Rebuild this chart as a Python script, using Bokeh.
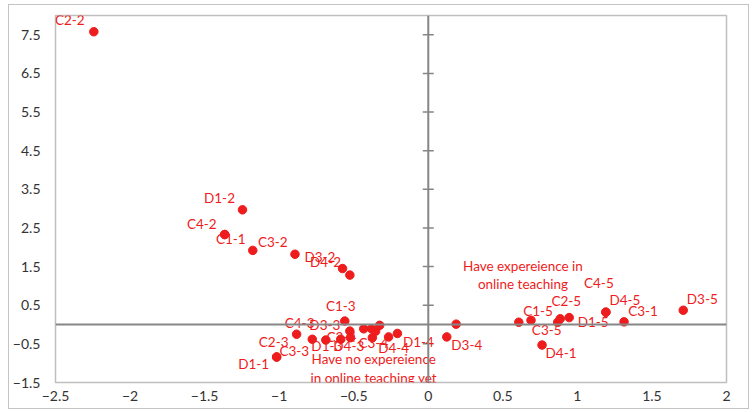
from bokeh.plotting import figure
from bokeh.models import Range1d, FixedTicker, Span, ColumnDataSource
from bokeh.core.properties import value
from bokeh.embed import file_html
from bokeh.resources import INLINE

# ---- data ----
names = ["C2-2", "D1-2", "C4-2", "C1-1", "C3-2", "D3-2", "D4-2", "",
         "C1-3", "C4-3", "D1-1", "C2-3", "C3-3", "D1-3", "D4-3", "D3-3",
         "C2-4", "", "", "", "", "C3-4", "D4-4", "D1-4",
         "D3-4", "", "", "C1-5", "C3-5", "C2-5", "D1-5", "D4-1",
         "D4-5", "C4-5", "C3-1", "D3-5"]
xs = [-2.243, -1.246, -1.365, -1.365, -1.177, -0.894, -0.575, -0.526,
      -0.560, -0.883, -1.017, -1.017, -0.778, -0.687, -0.587, -0.526,
      -0.522, -0.433, -0.381, -0.353, -0.326, -0.375, -0.266, -0.207,
      0.124, 0.187, 0.607, 0.689, 0.868, 0.885, 0.945, 0.763,
      1.191, 1.191, 1.313, 1.710]
ys = [7.58, 2.97, 2.33, 2.33, 1.92, 1.82, 1.45, 1.28,
      0.09, -0.25, -0.84, -0.84, -0.38, -0.40, -0.38, -0.17,
      -0.34, -0.11, -0.11, -0.17, -0.02, -0.34, -0.32, -0.23,
      -0.32, 0.01, 0.06, 0.11, 0.06, 0.15, 0.18, -0.53,
      0.32, 0.32, 0.07, 0.37]
x_ticks = [-2.5, -2, -1.5, -1, -0.5, 0, 0.5, 1, 1.5, 2]
y_ticks = [-1.5, -0.5, 0.5, 1.5, 2.5, 3.5, 4.5, 5.5, 6.5, 7.5]
note_pos = ["Have expereience in", "online teaching"]
note_neg = ["Have no expereience", "in online teaching yet"]

# ---- label placement (screen pixel offsets, style only) ----
lab_dx = [-24, -23, -23, 6, 20, 25, -17, 0,
          -4, 3, -23, -3, -18, 1, 8, -25,
          -9, 0, 0, 0, 0, 1, 5, 21,
          20, 0, 0, 7, -11, 6, 24, 19,
          19, -7, 19, 19]
lab_dy = [-12, -12, -11, 4, -8, 3, -7, 0,
          -15, -11, 7, -15, 12, 6, 7, -6,
          -1, 0, 0, 0, 0, 5, 11, 9,
          8, 0, 0, -9, 8, -18, 4, 8,
          -12, -29, -11, -11]

RED = "#EE1C1C"
GRAY = "#868686"
FONT = "Lato"

p = figure(width=741, height=405, output_backend="svg", toolbar_location=None,
           x_range=Range1d(-2.5, 2), y_range=Range1d(-1.5, 8),
           min_border_left=44, min_border_right=24, min_border_top=10,
           min_border_bottom=28)
p.styles = {"margin-left": "8px", "margin-top": "4px", "border": "1px solid #C4C4C4"}
p.grid.visible = False
p.outline_line_color = "#BFBFBF"
p.outline_line_width = 1.5

for ax, ticks in ((p.xaxis[0], x_ticks), (p.yaxis[0], y_ticks)):
    ax.ticker = FixedTicker(ticks=ticks)
    ax.axis_line_color = None
    ax.major_tick_line_color = None
    ax.minor_tick_line_color = None
    ax.major_tick_in = 0
    ax.major_tick_out = 0
    ax.major_label_text_font = FONT
    ax.major_label_text_font_size = "14px"
    ax.major_label_text_color = "#333333"
p.yaxis[0].major_label_standoff = 15
p.xaxis[0].major_label_standoff = 8

p.add_layout(Span(location=0, dimension="height", line_color=GRAY, line_width=2))
p.add_layout(Span(location=0, dimension="width", line_color=GRAY, line_width=2))
p.scatter(x=[0] * len(y_ticks), y=y_ticks, marker="dash", size=11,
          line_color=GRAY, line_width=1.5)

src = ColumnDataSource(dict(x=xs, y=ys, name=names, dx=lab_dx, dy=lab_dy))
p.scatter("x", "y", source=src, size=8.5, fill_color=RED, line_color=RED)
p.text("x", "y", text="name", x_offset="dx", y_offset="dy", source=src,
       text_color=RED, text_font=value(FONT), text_font_size="13.5px",
       text_align="center", text_baseline="middle")

p.text(x=[0.635, 0.635], y=[1.52, 1.04], text=note_pos, text_color=RED,
       text_font=value(FONT), text_font_size="13.5px",
       text_align="center", text_baseline="middle")
p.text(x=[-0.366, -0.366], y=[-0.90, -1.38], text=note_neg, text_color=RED,
       text_font=value(FONT), text_font_size="13.5px",
       text_align="center", text_baseline="middle")

open("out.html", "w").write(file_html(p, INLINE))
